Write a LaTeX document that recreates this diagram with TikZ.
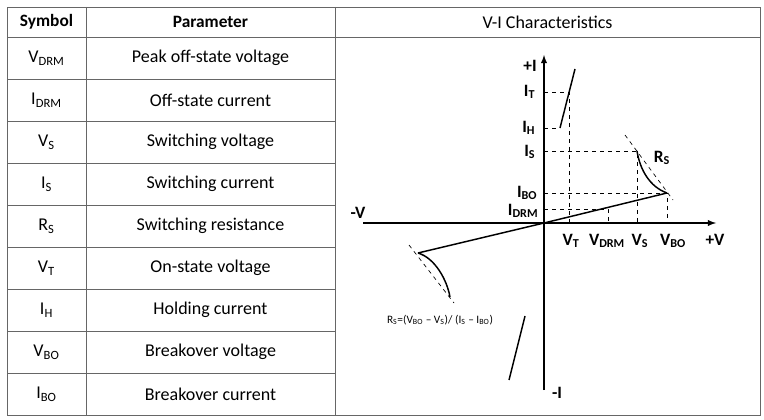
\documentclass[tikz,border=0pt]{standalone}
\usepackage{fontspec}
\setmainfont{Carlito}
\begin{document}
\begin{tikzpicture}[x=0.75pt,y=-0.75pt,
  tb/.style={draw=black!60,line width=0.6pt},
  cell/.style={font=\fontsize{13.5}{15}\selectfont},
  hdr/.style={font=\fontsize{13}{15}\selectfont\bfseries},
  ax/.style={line width=1.1pt,-latex},
  crv/.style={line width=1.1pt},
  dsh/.style={dashed,line width=0.5pt},
  lab/.style={font=\fontsize{13}{15}\selectfont\bfseries},
  ilab/.style={lab,anchor=east}]
\useasboundingbox (0,0) rectangle (764,420);
% table
\draw[tb] (7,7) rectangle (760,415);
\draw[tb] (86,7) -- (86,415) (335,7) -- (335,415);
\foreach \y in {37,79,121,163,205,247,289,331,373} \draw[tb] (7,\y) -- (335,\y);
\draw[tb] (335,37) -- (760,37);
\node[hdr] (h1) at (46.5,22) {Symbol};
\node[hdr] (h2) at (210.5,22) {Parameter};
\node[cell] (h3) at (547.5,22) {V-I Characteristics};
\foreach \s/\p [count=\i] in {V\textsubscript{DRM}/Peak off-state voltage,I\textsubscript{DRM}/Off-state current,V\textsubscript{S}/Switching voltage,I\textsubscript{S}/Switching current,R\textsubscript{S}/Switching resistance,V\textsubscript{T}/On-state voltage,I\textsubscript{H}/Holding current,V\textsubscript{BO}/Breakover voltage,I\textsubscript{BO}/Breakover current}{
  \node[cell] (s\i) at (46.5,16+42*\i) {\s};
  \node[cell] (p\i) at (210.5,16+42*\i) {\p};
}
% graph
\coordinate (O) at (544,223);
\coordinate (xl) at (363,223); \coordinate (xr) at (716,223);
\coordinate (yb) at (544,390); \coordinate (yt) at (544,55);
\draw[ax] (xl) -- (xr);
\draw[ax] (yb) -- (yt);
\node[lab] (pI) at (530,66) {+I};
\node[lab] (mI) at (557,393) {-I};
\node[lab] (mV) at (358,213) {-V};
\node[lab] (pV) at (715,240) {+V};
\coordinate (BO) at (667,193);
\coordinate (S) at (637,151);
\coordinate (T) at (569,92);
\coordinate (H) at (560,128);
\coordinate (D) at (608,209);
\coordinate (nBO) at (418,253);
% dashed guides
\draw[dsh] (544,92) -- (T) -- (569,223);
\draw[dsh] (544,128) -- (H);
\draw[dsh] (544,151) -- (S) -- (637,223);
\draw[dsh] (544,193) -- (BO) -- (667,223);
\draw[dsh] (544,209) -- (D) -- (608,223);
\draw[dsh] (625,135) -- (673,200);
\draw[dsh] (409,245) -- (454,303);
% curves
\draw[crv] (nBO) -- (O) -- (BO);
\draw[crv] (BO) .. controls (650,187) and (640,170) .. (S);
\draw[crv] (nBO) .. controls (435,258) and (447,280) .. (450,297);
\draw[crv] (H) -- (575,69);
\draw[crv] (525,316) -- (509,380);
% labels
\node[ilab] (lT) at (540,92) {I\textsubscript{T}};
\node[ilab] (lH) at (540,128) {I\textsubscript{H}};
\node[ilab] (lS) at (540,152) {I\textsubscript{S}};
\node[ilab] (lBO) at (542,193) {I\textsubscript{BO}};
\node[ilab] (lD) at (543,211) {I\textsubscript{DRM}};
\node[lab] (vT) at (571,241) {V\textsubscript{T}};
\node[lab] (vD) at (607,241) {V\textsubscript{DRM}};
\node[lab] (vS) at (640,241) {V\textsubscript{S}};
\node[lab] (vBO) at (673,241) {V\textsubscript{BO}};
\node[lab] (rs) at (662,158) {R\textsubscript{S}};
\node[font=\fontsize{8.5}{10}\selectfont] (f) at (440,320) {R\textsubscript{S}=(V\textsubscript{BO} -- V\textsubscript{S})/ (I\textsubscript{S} -- I\textsubscript{BO})};
\end{tikzpicture}
\end{document}
